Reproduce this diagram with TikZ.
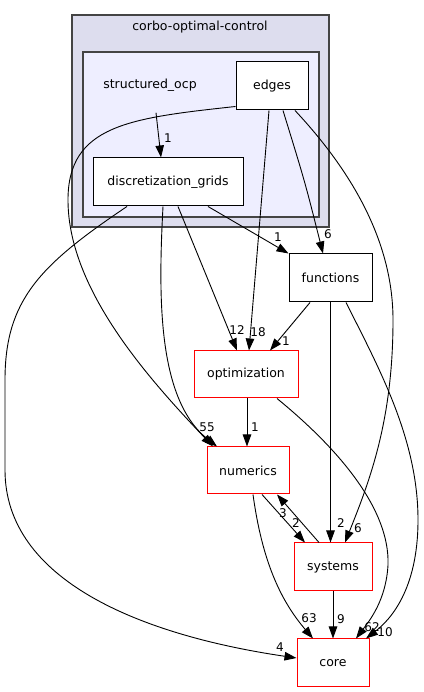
\documentclass[tikz,border=0pt]{standalone}
\usepackage{fontspec}
\setmainfont{DejaVu Sans}
\usetikzlibrary{arrows.meta}
\definecolor{clout}{HTML}{DDDDEE}
\definecolor{clin}{HTML}{EEEEFF}
\definecolor{clborder}{HTML}{444444}
\tikzset{
  x=1pt, y=1pt,
  dirbox/.style={draw=black, line width=1pt, fill=white, inner sep=0pt, font=\fontsize{12.5}{15}\selectfont},
  redbox/.style={dirbox, draw=red},
  dep/.style={draw=black, line width=0.9pt, -{Triangle[length=12pt,width=8.5pt]}},
  elabel/.style={font=\fontsize{12}{14}\selectfont, inner sep=0pt},
  clusterbox/.style={draw=clborder, line width=1.3pt}
}
\begin{document}
\begin{tikzpicture}
\useasboundingbox (0,0) rectangle (423,692);
% clusters
\draw[clusterbox, fill=clout] (72,465) rectangle (329,677);
\node[font=\fontsize{12.5}{15}\selectfont] (clab) at (200,665) {corbo-optimal-control};
\draw[clusterbox, fill=clin] (83,475) rectangle (319,640);
\node[font=\fontsize{12.5}{15}\selectfont] (so) at (150,607) {structured\_ocp};
% nodes
\node[dirbox, minimum width=72pt, minimum height=48pt] (edges) at (272,606) {edges};
\node[dirbox, minimum width=150pt, minimum height=48pt] (dg) at (168,510) {discretization\_grids};
\node[dirbox, minimum width=83pt, minimum height=48pt] (functions) at (330.5,414) {functions};
\node[redbox, minimum width=104pt, minimum height=47pt] (optimization) at (246,317.5) {optimization};
\node[redbox, minimum width=82pt, minimum height=47pt] (numerics) at (248,221.5) {numerics};
\node[redbox, minimum width=78pt, minimum height=48pt] (systems) at (333,125) {systems};
\node[redbox, minimum width=72pt, minimum height=48pt] (core) at (333,29) {core};
% edges
\draw[dep] ([xshift=6pt,yshift=-18pt]so.south) -- ([xshift=-7pt]dg.north);
\draw[dep] ([yshift=4pt]edges.south west) .. controls (130,574) and (68,567) .. (68,492)
  .. controls (68,402) and (150,312) .. ([xshift=-35pt]numerics.north);
\draw[dep] ([xshift=-5pt]dg.south) .. controls (158,392) and (158,292) .. ([xshift=-31pt]numerics.north);
\draw[dep] ([xshift=10pt]dg.south) -- ([xshift=-9pt]optimization.north);
\draw[dep] ([xshift=-3pt]edges.south) -- ([xshift=3pt]optimization.north);
\draw[dep] ([xshift=40pt]dg.south) -- (functions.north west);
\draw[dep] ([xshift=11pt]edges.south) .. controls (305,510) .. ([xshift=-7.5pt]functions.north);
\draw[dep] ([xshift=23pt]edges.south) .. controls (360,512) and (393,442) .. (393,372)
  .. controls (393,272) and (370,212) .. ([xshift=12pt]systems.north);
\draw[dep] ([xshift=-41pt]dg.south) .. controls (40,427) and (5,392) .. (5,312) -- (5,222)
  .. controls (5,112) and (140,57) .. ([yshift=5pt]core.west);
\draw[dep] ([xshift=-20.5pt]functions.south) -- ([xshift=24pt]optimization.north);
\draw[dep] (functions.south) -- ([xshift=-2.5pt]systems.north);
\draw[dep] ([xshift=15.5pt]functions.south) .. controls (380,322) and (418,252) .. (418,172)
  .. controls (418,102) and (390,72) .. ([xshift=33pt]core.north);
\draw[dep] ([xshift=1pt]optimization.south) -- ([xshift=-1pt]numerics.north);
\draw[dep] ([xshift=31pt]optimization.south) .. controls (340,242) and (390,182) .. (388,127)
  .. controls (386,92) and (370,72) .. ([xshift=23pt]core.north);
\draw[dep] ([xshift=14pt]numerics.south) -- ([xshift=-28pt]systems.north);
\draw[dep] ([xshift=-14pt]systems.north) -- ([xshift=29pt]numerics.south);
\draw[dep] ([xshift=5pt]numerics.south) .. controls (262,132) and (280,92) .. ([xshift=-20pt]core.north);
\draw[dep] (systems.south) -- (core.north);
% labels
\node[elabel] (l1) at (168,554) {1};
\node[elabel] (l2) at (278,455) {1};
\node[elabel] (l3) at (328,458) {6};
\node[elabel] (l4) at (237,362) {12};
\node[elabel] (l5) at (258,360) {18};
\node[elabel] (l6) at (286,351) {1};
\node[elabel] (l7) at (207,265) {55};
\node[elabel] (l8) at (255,265) {1};
\node[elabel] (l9) at (283,179) {3};
\node[elabel] (l10) at (296,169) {2};
\node[elabel] (l11) at (341,169) {2};
\node[elabel] (l12) at (358,164) {6};
\node[elabel] (l13) at (309,74) {63};
\node[elabel] (l14) at (341,73) {9};
\node[elabel] (l15) at (372,65) {62};
\node[elabel] (l16) at (385,60) {10};
\node[elabel] (l17) at (280,45) {4};
\end{tikzpicture}
\end{document}
